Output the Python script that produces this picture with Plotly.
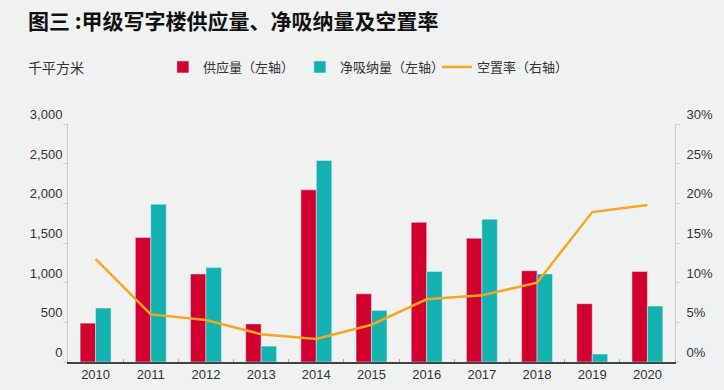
import plotly.graph_objects as go

years = ["2010", "2011", "2012", "2013", "2014", "2015", "2016", "2017", "2018", "2019", "2020"]
supply = [490, 1570, 1110, 480, 2170, 860, 1760, 1560, 1150, 735, 1140]
absorption = [680, 1990, 1190, 200, 2540, 650, 1140, 1800, 1110, 100, 705]
vacancy = [13.0, 6.0, 5.3, 3.5, 2.9, 4.7, 7.9, 8.4, 10.0, 18.9, 19.8]

left_ticks = [0, 500, 1000, 1500, 2000, 2500, 3000]
left_labels = ["0", "500", "1,000", "1,500", "2,000", "2,500", "3,000"]
right_ticks = [0, 5, 10, 15, 20, 25, 30]
right_labels = ["0%", "5%", "10%", "15%", "20%", "25%", "30%"]

RED = "#d2002f"
TEAL = "#14b1b1"
ORANGE = "#f5a623"
BG = "#eff2f1"
CJK = "Noto Sans CJK SC"
NUM = "Liberation Sans, Arial, sans-serif"

fig = go.Figure()
fig.add_trace(go.Bar(x=years, y=supply, name="供应量（左轴）", marker_color=RED, yaxis="y"))
fig.add_trace(go.Bar(x=years, y=absorption, name="净吸纳量（左轴）", marker_color=TEAL, yaxis="y"))
fig.add_trace(go.Scatter(x=years, y=vacancy, name="空置率（右轴）", mode="lines",
                         line=dict(color=ORANGE, width=2.5), yaxis="y2"))

fig.update_layout(
    width=724, height=390,
    paper_bgcolor=BG, plot_bgcolor=BG,
    margin=dict(l=68, r=49, t=124, b=28, autoexpand=False),
    barmode="group", bargap=0.44, bargroupgap=0,
    font=dict(family=NUM, size=13, color="#333333"),
    showlegend=True,
    legend=dict(orientation="h", x=0.225, xref="container", y=1 - 67 / 390, yref="container",
                yanchor="middle", xanchor="left", entrywidth=92,
                font=dict(family=CJK, size=13, color="#333333"),
                bgcolor="rgba(0,0,0,0)", itemwidth=30),
    xaxis=dict(type="category", showline=True, linecolor="#444444", linewidth=1.5,
               ticks="inside", ticklen=3, tickcolor="#aaaaaa", tickson="boundaries",
               showgrid=False, tickfont=dict(family=NUM, size=13, color="#333333"),
               range=[-0.5, 10.5]),
    yaxis=dict(range=[0, 3000], tickvals=left_ticks, ticktext=left_labels,
               showline=True, linecolor="#c8c8c8", linewidth=1, showgrid=False,
               zeroline=False, ticks="outside", ticklen=4, tickcolor="#d0d0d0",
               ticklabelposition="outside top", ticklabelstandoff=2,
               tickfont=dict(family=NUM, size=13, color="#333333")),
    yaxis2=dict(range=[0, 30], tickvals=right_ticks, ticktext=right_labels,
                overlaying="y", side="right", showline=True, linecolor="#c8c8c8",
                linewidth=1, showgrid=False, zeroline=False, ticks="outside",
                ticklen=4, tickcolor="#d0d0d0", ticklabelposition="outside top",
                ticklabelstandoff=8,
                tickfont=dict(family=NUM, size=13, color="#333333")),
    annotations=[
        dict(text="<b>图三 :甲级写字楼供应量、净吸纳量及空置率</b>", xref="paper", yref="paper",
             x=-0.069, y=1.437, xanchor="left", yanchor="middle", showarrow=False,
             font=dict(family=CJK, size=21, color="#111111")),
        dict(text="千平方米", xref="paper", yref="paper", x=-0.069, y=1.239,
             xanchor="left", yanchor="middle", showarrow=False,
             font=dict(family=CJK, size=14, color="#333333")),
    ],
)

fig.write_html("out.html", config={"displayModeBar": False},
               post_script="document.body.style.margin='0px';")
